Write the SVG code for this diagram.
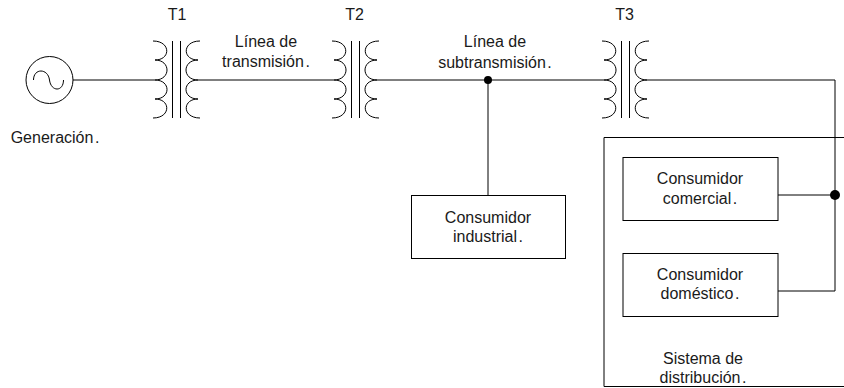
<svg xmlns="http://www.w3.org/2000/svg" width="844" height="388" viewBox="0 0 844 388">
<style>
text{font-family:"Liberation Sans",Arial,sans-serif;font-size:16px;fill:#1a1a1a;text-anchor:middle}
.l{fill:none;stroke:#000;stroke-width:1}
.b{fill:#fff;stroke:#000;stroke-width:1}
.d{fill:#000;stroke:none}
</style>
<defs>
<g id="tx" class="l">
<path d="M153 41C171 41 171 60 155 60C171 60 171 80 155 80C171 80 171 99 155 99C171 99 171 118 153 118"/>
<path d="M200 41C182 41 182 60 198 60C182 60 182 80 198 80C182 80 182 99 198 99C182 99 182 118 200 118"/>
<path d="M172.500 41V118M180.500 41V118"/>
</g>
</defs>
<rect width="844" height="388" fill="#fff"/>
<g id="connectors" class="l">
<path d="M73 80H155M198 80H334M377 80H604M647 80H835V291H778M778 195H835M488 80V195"/>
</g>
<g id="generator">
<circle class="l" cx="49.500" cy="80" r="23.500"/>
<path class="l" d="M33.500 80C33.500 68 48 68 49.500 80C51 92 63.500 92 63.500 80"/>
<text x="55" y="143">Generación<tspan dx="1.500">.</tspan></text>
</g>
<g id="T1"><use href="#tx"/><text x="177" y="20">T1</text></g>
<g id="T2"><use href="#tx" x="179"/><text x="354.500" y="20">T2</text></g>
<g id="T3"><use href="#tx" x="449"/><text x="624.500" y="20">T3</text></g>
<g id="linea-transmision"><text x="266" y="47">Línea de</text><text x="266" y="67">transmisión<tspan dx="1.500">.</tspan></text></g>
<g id="linea-subtransmision"><text x="495" y="47">Línea de</text><text x="495" y="68">subtransmisión<tspan dx="1.500">.</tspan></text></g>
<g id="dot-1"><circle class="d" cx="488" cy="80" r="4"/></g>
<g id="consumidor-industrial"><rect class="b" x="411.500" y="195.500" width="154" height="63"/><text x="488" y="223">Consumidor</text><text x="488" y="242">industrial<tspan dx="1.500">.</tspan></text></g>
<g id="sistema-distribucion"><path class="l" d="M844 137.500H604V386.500H844"/><text x="703" y="364">Sistema de</text><text x="703" y="383">distribución<tspan dx="1.500">.</tspan></text></g>
<g id="consumidor-comercial"><rect class="b" x="623" y="157.500" width="155" height="63"/><text x="700" y="184">Consumidor</text><text x="700" y="204">comercial<tspan dx="1.500">.</tspan></text></g>
<g id="consumidor-domestico"><rect class="b" x="623" y="253.500" width="155" height="63"/><text x="700" y="280">Consumidor</text><text x="700" y="299">doméstico<tspan dx="1.500">.</tspan></text></g>
<g id="dot-2"><circle class="d" cx="835" cy="195" r="5"/></g>
</svg>
